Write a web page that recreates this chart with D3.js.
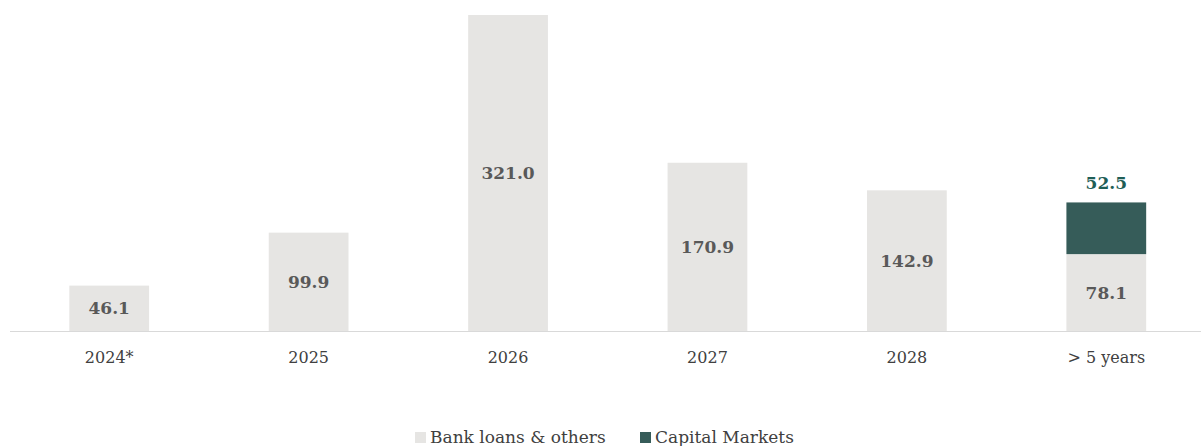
<!DOCTYPE html>
<html>
<head>
<meta charset="utf-8">
<script src="https://cdn.jsdelivr.net/npm/d3@7"></script>
<style>
  body { margin: 0; background: #fff; }
  svg { display: block; font-family: Georgia, "DejaVu Serif", serif; }
</style>
</head>
<body>
<div id="chart"></div>
<script>
// Maturity profile data
const categories = ["2024*", "2025", "2026", "2027", "2028", "> 5 years"];
const bankLoans = [46.1, 99.9, 321.0, 170.9, 142.9, 78.1];
const capitalMarkets = [0, 0, 0, 0, 0, 52.5];
const seriesNames = ["Bank loans & others", "Capital Markets"];

const width = 1201, height = 446;
const baseY = 331;

const svg = d3.select("#chart").append("svg")
    .attr("width", width)
    .attr("height", height);

// scales
const x = d3.scaleBand()
    .domain(categories)
    .range([9.5, 1206])
    .paddingInner(0.6)
    .paddingOuter(0.3);

const y = d3.scaleLinear()
    .domain([0, 321])
    .range([baseY, 15]);

const colors = { bank: "#e6e5e3", cap: "#365c59" };

const rows = categories.map((c, i) => ({ cat: c, bank: bankLoans[i], cap: capitalMarkets[i] }));

// bank loans bars
svg.selectAll(".bank")
    .data(rows)
    .enter().append("rect")
    .attr("class", "bank")
    .attr("x", d => x(d.cat))
    .attr("width", x.bandwidth())
    .attr("y", d => y(d.bank))
    .attr("height", d => baseY - y(d.bank))
    .attr("fill", colors.bank);

// capital markets bars (stacked on top)
svg.selectAll(".cap")
    .data(rows.filter(d => d.cap > 0))
    .enter().append("rect")
    .attr("class", "cap")
    .attr("x", d => x(d.cat))
    .attr("width", x.bandwidth())
    .attr("y", d => y(d.bank + d.cap))
    .attr("height", d => y(d.bank) - y(d.bank + d.cap))
    .attr("fill", colors.cap);

// axis line
svg.append("line")
    .attr("x1", 10).attr("x2", width)
    .attr("y1", baseY + 0.5).attr("y2", baseY + 0.5)
    .attr("stroke", "#d9d9d9")
    .attr("stroke-width", 1);

// value labels inside bank bars
svg.selectAll(".bankLabel")
    .data(rows)
    .enter().append("text")
    .attr("x", d => x(d.cat) + x.bandwidth() / 2)
    .attr("y", d => (y(d.bank) + baseY) / 2)
    .attr("dy", "0.35em")
    .attr("text-anchor", "middle")
    .attr("font-size", 17)
    .attr("font-weight", "bold")
    .attr("fill", "#595959")
    .text(d => d.bank.toFixed(1));

// capital market labels above
svg.selectAll(".capLabel")
    .data(rows.filter(d => d.cap > 0))
    .enter().append("text")
    .attr("x", d => x(d.cat) + x.bandwidth() / 2)
    .attr("y", d => y(d.bank + d.cap) - 19)
    .attr("dy", "0.35em")
    .attr("text-anchor", "middle")
    .attr("font-size", 17)
    .attr("font-weight", "bold")
    .attr("fill", "#1f5e56")
    .text(d => d.cap.toFixed(1));

// category labels
svg.selectAll(".catLabel")
    .data(categories)
    .enter().append("text")
    .attr("x", d => x(d) + x.bandwidth() / 2)
    .attr("y", 357)
    .attr("dy", "0.35em")
    .attr("text-anchor", "middle")
    .attr("font-size", 16)
    .attr("fill", "#404040")
    .text(d => d);

// legend
const legendX = [415, 640];
const legend = svg.selectAll(".legend")
    .data(seriesNames)
    .enter().append("g")
    .attr("transform", (d, i) => `translate(${legendX[i]},437)`);

legend.append("rect")
    .attr("x", 0).attr("y", -5)
    .attr("width", 11).attr("height", 11)
    .attr("fill", (d, i) => i === 0 ? colors.bank : colors.cap);

legend.append("text")
    .attr("x", 15)
    .attr("y", 0)
    .attr("dy", "0.35em")
    .attr("font-size", 17)
    .attr("fill", "#404040")
    .text(d => d);
</script>
</body>
</html>
